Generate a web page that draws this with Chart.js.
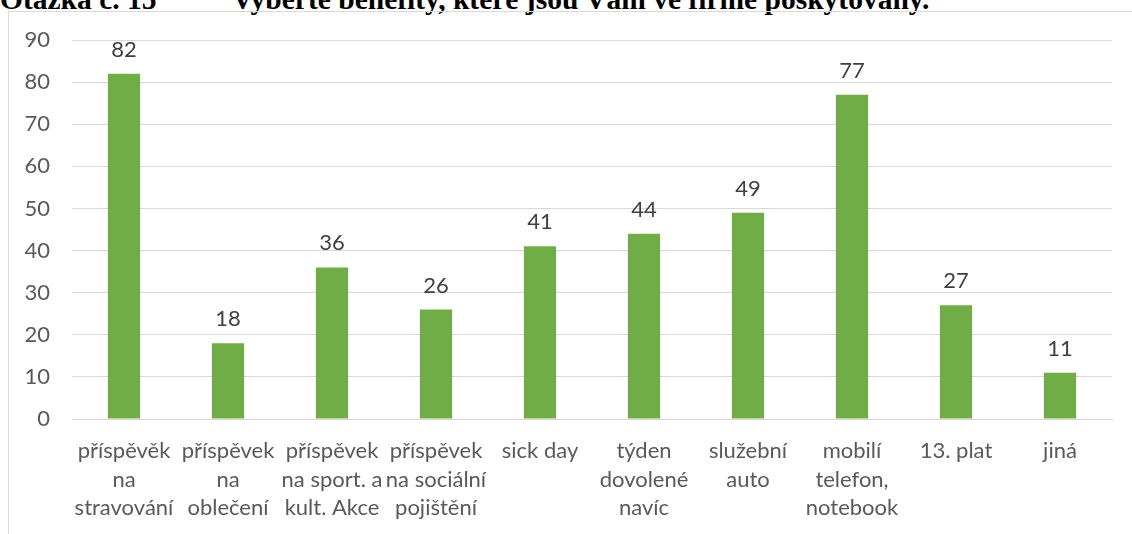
<!DOCTYPE html>
<html lang="cs">
<head>
<meta charset="utf-8">
<title>Benefity ve firmě</title>
<script src="https://cdn.jsdelivr.net/npm/chart.js@4.4.1/dist/chart.umd.min.js"></script>
<style>
  html, body { margin: 0; padding: 0; background: #fff; }
  body { width: 1132px; height: 534px; position: relative; overflow: hidden; }
  .heading {
    position: absolute; top: -15px; left: 0; white-space: nowrap;
    font: bold 29.5px/29px "Liberation Serif", "Times New Roman", serif; color: #000;
  }
  .heading span { position: absolute; top: 0; }
  .frame {
    position: absolute; left: 8px; top: 11px; width: 1200px; height: 600px;
    border-left: 1px solid #d9d9d9; border-top: 1px solid #d9d9d9;
  }
  #benefits { position: absolute; left: 0; top: 0; }
</style>
</head>
<body>
<div class="heading">
  <span style="left:0">Otázka č. 15</span>
  <span style="left:232px">Vyberte benefity, které jsou Vám ve firmě poskytovány.</span>
</div>
<div class="frame"></div>
<canvas id="benefits" width="1132" height="534"></canvas>
<script>
const categories = [
  ['příspěvěk', 'na', 'stravování'],
  ['příspěvek', 'na', 'oblečení'],
  ['příspěvek', 'na sport. a', 'kult. Akce'],
  ['příspěvek', 'na sociální', 'pojištění'],
  ['sick day'],
  ['týden', 'dovolené', 'navíc'],
  ['služební', 'auto'],
  ['mobilí', 'telefon,', 'notebook'],
  ['13. plat'],
  ['jiná']
];
const answers = [82, 18, 36, 26, 41, 44, 49, 77, 27, 11];
const yTicks = [0, 10, 20, 30, 40, 50, 60, 70, 80, 90];

const FONT = 'Lato, "Open Sans", sans-serif';

// value printed above each bar
const barValues = {
  id: 'barValues',
  afterDatasetsDraw(chart) {
    const ctx = chart.ctx;
    const meta = chart.getDatasetMeta(0);
    ctx.save();
    ctx.font = `22px ${FONT}`;
    ctx.fillStyle = '#404040';
    ctx.textAlign = 'center';
    ctx.textBaseline = 'alphabetic';
    meta.data.forEach((bar, i) => {
      ctx.fillText(String(chart.data.datasets[0].data[i]), bar.x, bar.y - 17);
    });
    ctx.restore();
  }
};

new Chart(document.getElementById('benefits'), {
  type: 'bar',
  data: {
    labels: categories,
    datasets: [{
      data: answers,
      backgroundColor: '#70ad47',
      borderWidth: 0,
      barPercentage: 0.31,
      categoryPercentage: 1
    }]
  },
  options: {
    responsive: false,
    animation: false,
    layout: { padding: { top: 40, right: 20, left: 0, bottom: 0 } },
    plugins: {
      legend: { display: false },
      tooltip: { enabled: false }
    },
    scales: {
      x: {
        grid: { display: false, drawTicks: false },
        border: { color: '#d9d9d9', width: 1 },
        afterFit(scale) { scale.height = 115; },
        ticks: {
          autoSkip: false,
          maxRotation: 0,
          padding: 18,
          color: '#595959',
          font: { family: FONT, size: 22, lineHeight: '28.5px' }
        }
      },
      y: {
        min: 0,
        max: 90,
        afterFit(scale) { scale.width = 72; },
        afterBuildTicks(scale) { scale.ticks = yTicks.map(v => ({ value: v })); },
        grid: { color: '#d9d9d9', lineWidth: 1, drawTicks: false },
        border: { display: false },
        ticks: {
          padding: 22,
          color: '#595959',
          font: { family: FONT, size: 22 }
        }
      }
    }
  },
  plugins: [barValues]
});
</script>
</body>
</html>
